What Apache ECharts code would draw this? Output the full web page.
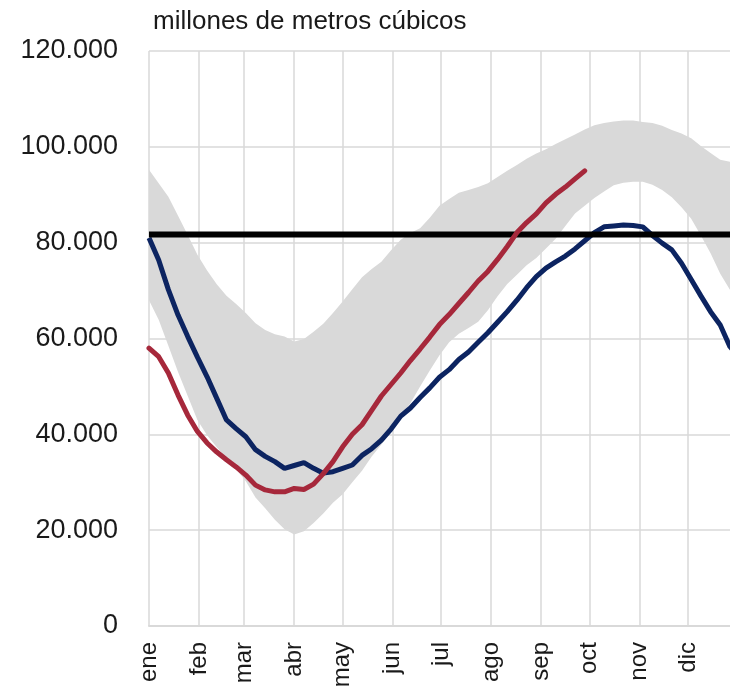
<!DOCTYPE html>
<html>
<head>
<meta charset="utf-8">
<script src="https://cdn.jsdelivr.net/npm/echarts@6/dist/echarts.min.js"></script>
<style>
  html, body { margin: 0; padding: 0; background: #fff; }
  #box { width: 730px; height: 694px; }
</style>
</head>
<body>
<div id="box"></div>
<script>
// dias del año (cada 6 dias) y valores en miles de millones de m3
const days = [0,6,12,18,24,30,36,42,48,54,60,66,72,78,84,90,96,102,108,114,120,126,132,138,144,150,156,162,168,174,180,186,192,198,204,210,216,222,228,234,240,246,252,258,264,270,276,282,288,294,300,306,312,318,324,330,336,342,348,354,360,365];
const monthStarts = [0,31,59,90,120,151,181,212,243,273,304,334];
const monthNames = ['ene','feb','mar','abr','may','jun','jul','ago','sep','oct','nov','dic'];

// banda min-max
const bandMax = [95.2,92.4,89.6,85.6,81.6,77.5,74.2,71.3,68.9,67.2,65.3,63.2,61.8,60.9,60.4,59.4,59.9,61.4,63.1,65.3,67.7,70.3,72.8,74.5,76.0,78.4,80.6,82.0,83.0,85.2,87.7,89.1,90.4,91.0,91.6,92.4,93.7,95.0,96.2,97.5,98.6,99.5,100.6,101.6,102.6,103.6,104.5,105.0,105.3,105.5,105.5,105.2,105.0,104.4,103.5,102.8,101.8,100.2,98.7,97.3,96.9,96.8];
const bandMin = [68.0,63.9,58.5,53.0,48.0,43.0,39.8,37.3,35.0,32.7,30.2,26.8,24.6,22.2,20.2,19.1,19.8,21.5,23.5,25.7,27.5,30.0,32.4,35.4,37.9,40.6,43.6,46.5,50.0,53.3,56.5,59.2,61.0,62.2,63.5,65.9,68.8,71.4,73.3,75.3,76.8,78.8,80.8,83.5,86.1,87.7,89.3,90.7,92.0,92.5,92.7,92.7,92.1,91.0,89.5,87.4,85.0,81.5,77.8,73.5,70.2,69.0];
// año anterior
const prevYear = [81.0,76.4,70.2,64.9,60.4,56.1,52.0,47.5,43.0,41.2,39.5,36.8,35.4,34.3,32.9,33.5,34.1,32.9,31.9,32.2,32.9,33.6,35.6,37.0,38.8,41.1,43.8,45.5,47.7,49.7,51.9,53.5,55.6,57.2,59.2,61.2,63.4,65.6,68.0,70.6,72.9,74.7,76.0,77.2,78.7,80.4,82.1,83.3,83.5,83.7,83.6,83.3,81.5,79.9,78.5,75.7,72.3,68.9,65.6,62.8,58.3,56.5];
// año actual (hasta principios de octubre)
const currYear = [58.0,56.2,52.8,48.2,44.0,40.6,38.2,36.3,34.7,33.2,31.5,29.4,28.4,28.0,28.0,28.7,28.5,29.6,31.8,34.3,37.4,40.0,42.0,45.0,48.0,50.4,52.8,55.4,57.8,60.3,62.9,65.0,67.3,69.6,72.0,74.0,76.5,79.2,82.1,84.2,86.0,88.3,90.1,91.6,93.3,95.0];
const refLevel = 81.7;

const pair = (arr) => arr.map((v, i) => [days[i], v]);
const font = "'Liberation Sans', Arial, sans-serif";

let myChart = echarts.init(document.getElementById('box'));
const option = {
  animation: false,
  textStyle: { fontFamily: font },
  title: {
    text: 'millones de metros cúbicos',
    left: 148,
    top: 4,
    textStyle: { fontSize: 26, fontWeight: 'normal', color: '#1a1a1a', fontFamily: font }
  },
  // el año completo sobresale un poco por la derecha, como en el original
  grid: { left: 149, width: 589, top: 51, bottom: 68, outerBoundsMode: 'none' },
  xAxis: {
    type: 'value',
    min: 0,
    max: 365,
    axisLine: { show: true, lineStyle: { color: '#d9d9d9', width: 2 } },
    axisTick: { show: false, customValues: monthStarts },
    axisLabel: {
      customValues: monthStarts,
      rotate: 90,
      margin: 16,
      fontSize: 24,
      color: '#1a1a1a',
      formatter: (v) => monthNames[monthStarts.indexOf(v)] || ''
    },
    splitLine: { show: true, lineStyle: { color: '#d9d9d9', width: 1.5 } }
  },
  yAxis: {
    type: 'value',
    min: 0,
    max: 120,
    interval: 20,
    axisLine: { show: false },
    axisTick: { show: false },
    axisLabel: {
      margin: 31,
      fontSize: 27,
      color: '#1a1a1a',
      formatter: (v) => v === 0 ? '0' : v + '.000'
    },
    splitLine: { lineStyle: { color: '#d9d9d9', width: 1.5 } }
  },
  series: [
    {
      // banda entre minimo y maximo, dibujada como un poligono
      name: 'rango',
      type: 'custom',
      silent: true,
      encode: { x: 0, y: [1, 2] },
      data: days.map((d, i) => [d, bandMin[i], bandMax[i]]),
      renderItem: function (params, api) {
        if (params.dataIndex !== 0) return;
        const top = days.map((d, i) => api.coord([d, bandMax[i]]));
        const bottom = days.map((d, i) => api.coord([d, bandMin[i]])).reverse();
        return {
          type: 'polygon',
          shape: { points: top.concat(bottom) },
          style: { fill: '#d9d9d9' }
        };
      }
    },
    {
      name: 'año anterior',
      type: 'line',
      symbol: 'none',
      lineStyle: { color: '#0c2461', width: 5 },
      data: pair(prevYear)
    },
    {
      name: 'referencia',
      type: 'line',
      symbol: 'none',
      lineStyle: { color: '#000', width: 6 },
      data: [[0, refLevel], [365, refLevel]]
    },
    {
      name: 'año actual',
      type: 'line',
      symbol: 'none',
      lineStyle: { color: '#a6283b', width: 5, cap: 'round' },
      data: pair(currYear)
    }
  ]
};
myChart.setOption(option);
window.onresize = function () {
  myChart.resize();
};
</script>
</body>
</html>
